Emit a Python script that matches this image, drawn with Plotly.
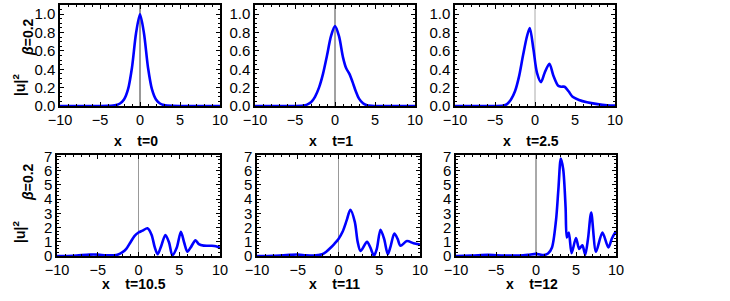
import plotly.graph_objects as go

# ---- data ----
x_t0 = [-10, -6, -4, -3, -2.5, -2, -1.5, -1, -0.5, 0, 0.5, 1, 1.5, 2, 2.5, 3, 4, 6, 10]
u_t0 = [0, 0, 0.001, 0.01, 0.027, 0.07, 0.18, 0.42, 0.79, 1.0, 0.79, 0.42, 0.18, 0.07, 0.027, 0.01, 0.001, 0, 0]

x_t1 = [-10, -5, -4, -3.5, -3, -2.5, -2, -1.5, -1, -0.5, 0, 0.5, 1, 1.4, 1.8, 2.2, 2.6, 3, 3.5, 4, 5, 10]
u_t1 = [0, 0, 0.005, 0.015, 0.04, 0.1, 0.2, 0.35, 0.55, 0.76, 0.87, 0.76, 0.53, 0.41, 0.35, 0.26, 0.16, 0.08, 0.03, 0.008, 0, 0]

x_t25 = [-10, -5, -4, -3.5, -3, -2.5, -2, -1.5, -1, -0.65, -0.2, 0.25, 0.75, 1.2, 1.8, 2.3, 2.9, 3.3, 3.7, 4.2, 4.7, 5.5, 6.5, 7.8, 9, 10]
u_t25 = [0, 0, 0.005, 0.02, 0.07, 0.16, 0.32, 0.55, 0.76, 0.85, 0.62, 0.36, 0.26, 0.36, 0.46, 0.33, 0.22, 0.21, 0.21, 0.16, 0.1, 0.065, 0.04, 0.02, 0.008, 0.004]

x_t105 = [-10, -8, -6, -5, -4, -3, -2.5, -2, -1.5, -1, -0.5, 0, 0.5, 1.1, 1.6, 2, 2.35, 2.8, 3.3, 3.75, 4.15, 4.7, 5.2, 5.6, 6, 6.4, 7, 7.4, 8, 9, 9.5, 10]
u_t105 = [0, 0.02, 0.1, 0.1, 0.05, 0.05, 0.1, 0.25, 0.5, 0.95, 1.4, 1.65, 1.78, 1.95, 1.5, 0.6, 0.12, 0.72, 1.48, 0.95, 0.05, 0.6, 1.7, 0.95, 0.3, 0.6, 1.1, 0.83, 0.73, 0.72, 0.68, 0.56]

x_t11 = [-10, -8, -6, -5, -4, -3, -2.5, -2, -1.5, -1, -0.5, 0, 0.5, 1, 1.45, 2, 2.35, 2.7, 3.5, 3.9, 4.35, 4.7, 5.15, 5.6, 6.05, 6.4, 6.85, 7.25, 7.6, 8.4, 9.2, 10]
u_t11 = [0, 0.02, 0.08, 0.1, 0.05, 0.03, 0.06, 0.12, 0.3, 0.56, 0.86, 1.2, 1.7, 2.5, 3.25, 2.4, 1.0, 0.35, 1.0, 0.6, 0.02, 0.5, 1.85, 1.2, 0.12, 0.7, 1.58, 1.2, 0.72, 1.05, 0.9, 0.8]

x_t12 = [-10, -8, -6, -5, -4, -2, -1, 0, 1, 1.5, 2, 2.5, 2.8, 3.1, 3.4, 3.7, 3.85, 4.1, 4.45, 5.0, 5.4, 5.8, 6.15, 6.5, 6.9, 7.5, 8.3, 9.05, 9.5, 10]
u_t12 = [0, 0.03, 0.08, 0.05, 0.03, 0.03, 0.08, 0.15, 0.07, 0.17, 0.6, 2.5, 4.7, 6.85, 6.1, 3.4, 1.3, 1.65, 0.2, 1.27, 0.5, 0.75, 0.08, 1.2, 3.05, 0.3, 1.65, 0.6, 1.25, 1.75]

panel_titles = ["t=0", "t=1", "t=2.5", "t=10.5", "t=11", "t=12"]
x_ticks = [-10, -5, 0, 5, 10]
y_ticks_top = [0.0, 0.2, 0.4, 0.6, 0.8, 1.0]
y_ticks_bot = [0, 1, 2, 3, 4, 5, 6, 7]

series = [(x_t0, u_t0), (x_t1, u_t1), (x_t25, u_t25),
          (x_t105, u_t105), (x_t11, u_t11), (x_t12, u_t12)]

W, H = 730, 301
# pixel boxes (left, right, top, bottom)
boxes = [(60, 220, 5, 106), (255, 415, 5, 106), (455, 615, 5, 106),
         (57, 220, 155, 256), (257, 420, 155, 256), (456, 616, 155, 256)]
zero_line_colors = ["#333333", "#444444", "#aaaaaa", "#999999", "#999999", "#555555"]

fig = go.Figure()
FONT = "Liberation Sans, Arial, sans-serif"
layout = dict(template="none", width=W, height=H, autosize=False,
              margin=dict(l=0, r=0, t=0, b=0, pad=0),
              paper_bgcolor="white", plot_bgcolor="white", showlegend=False,
              font=dict(family=FONT, size=14, color="black"))
annotations = []
shapes = []
for i, ((xs, ys), (l, r, t, b)) in enumerate(zip(series, boxes)):
    n = "" if i == 0 else str(i + 1)
    fig.add_trace(go.Scatter(x=xs, y=ys, mode="lines",
                             line=dict(color="#0000ff", width=2.6, shape="spline", smoothing=0.8),
                             xaxis="x" + n, yaxis="y" + n, hoverinfo="skip"))
    top = i < 3
    layout["xaxis" + n] = dict(domain=[l / W, r / W], anchor="y" + n, range=[-10, 10],
                                automargin=False,
                                tickvals=x_ticks, ticktext=["\u221210", "\u22125", "0", "5", "10"],
                                ticks="inside", ticklen=4, tickwidth=1, tickcolor="black",
                                minor=dict(dtick=1, ticks="inside", ticklen=2, tickcolor="black"),
                                showline=True, linecolor="black", linewidth=1.5, mirror="allticks",
                                showgrid=False, zeroline=False, tickfont=dict(size=14.5, family=FONT))
    layout["yaxis" + n] = dict(domain=[1 - b / H, 1 - t / H], anchor="x" + n,
                                automargin=False,
                                range=[0, 1.1] if top else [0, 7.1],
                                tickvals=y_ticks_top if top else y_ticks_bot,
                                ticktext=["%.1f" % v for v in y_ticks_top] if top else [str(v) for v in y_ticks_bot],
                                ticks="inside", ticklen=4, tickwidth=1, tickcolor="black",
                                minor=dict(dtick=0.05 if top else 0.25, ticks="inside", ticklen=2, tickcolor="black"),
                                showline=True, linecolor="black", linewidth=1.5, mirror="allticks",
                                showgrid=False, zeroline=False, tickfont=dict(size=15, family=FONT))
    shapes.append(dict(type="line", xref="x" + n, yref="y" + n + " domain", x0=0, x1=0, y0=0, y1=1,
                       line=dict(color=zero_line_colors[i], width=1), layer="below"))
    ylab = 141 if top else 284
    annotations.append(dict(text="<b>x\u00a0\u00a0\u00a0\u00a0" + panel_titles[i] + "</b>",
                            xref="paper", yref="paper", x=(l + r) / 2 / W - 0.006, y=1 - ylab / H,
                            showarrow=False, xanchor="center", yanchor="middle",
                            font=dict(size=14, family=FONT)))

for yc_u, yc_b in [(85, 37), (232, 182)]:
    annotations.append(dict(text="<b>|u|<sup>2</sup></b>", xref="paper", yref="paper",
                            x=19 / W, y=1 - yc_u / H, showarrow=False, textangle=-90,
                            xanchor="center", yanchor="middle", font=dict(size=14, family=FONT)))
    annotations.append(dict(text="<b><i>\u03b2</i>=0.2</b>", xref="paper", yref="paper",
                            x=28 / W, y=1 - yc_b / H, showarrow=False, textangle=-90,
                            xanchor="center", yanchor="middle", font=dict(size=14, family=FONT)))

layout["annotations"] = annotations
layout["shapes"] = shapes
fig.update_layout(**layout)
fig.write_html("out.html", config={"displayModeBar": False},
               post_script="document.body.style.margin='0';document.body.style.padding='0';")
